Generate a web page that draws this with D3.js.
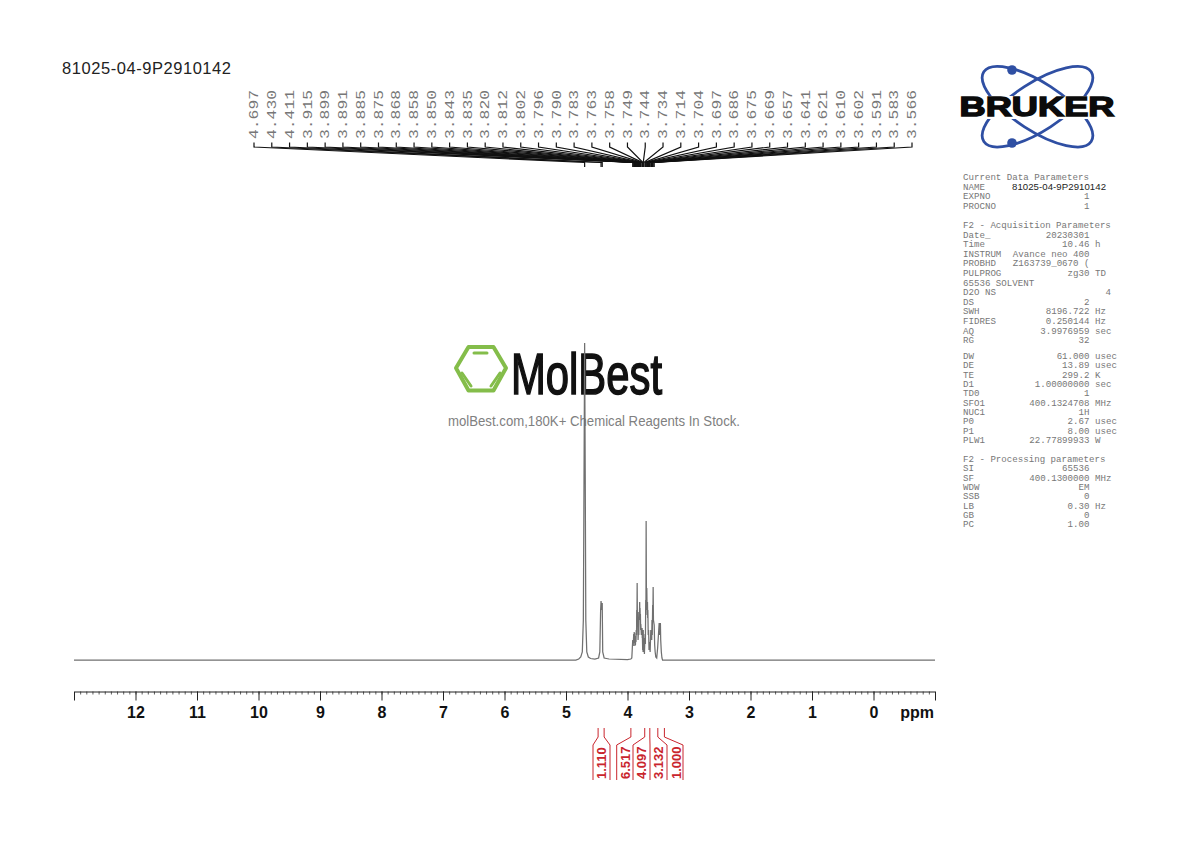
<!DOCTYPE html>
<html><head><meta charset="utf-8">
<script src="https://cdn.jsdelivr.net/npm/d3@7"></script>
<style>html,body{margin:0;background:#fff}svg{display:block}</style>
</head><body><svg id="c" width="1190" height="842"></svg>
<script>
// ---------- data ----------
const title = "81025-04-9P2910142";
const ppmTicks = [12,11,10,9,8,7,6,5,4,3,2,1,0];
const peakPicks = ["4.697","4.430","4.411","3.915","3.899","3.891","3.885","3.875","3.868","3.858","3.850","3.843","3.835","3.820","3.812","3.802","3.796","3.790","3.783","3.763","3.758","3.749","3.744","3.734","3.714","3.704","3.697","3.686","3.675","3.669","3.657","3.641","3.621","3.610","3.602","3.591","3.583","3.566"];
const tracePpm = [13,4.84,4.793,4.76,4.735,4.718,4.707,4.697,4.687,4.678,4.662,4.637,4.6,4.53,4.47,4.45,4.437,4.43,4.42,4.411,4.403,4.38,4.3,4.0,3.945,3.93,3.915,3.907,3.899,3.895,3.891,3.888,3.885,3.880,3.875,3.871,3.868,3.862,3.858,3.853,3.850,3.846,3.843,3.839,3.835,3.828,3.820,3.816,3.812,3.807,3.802,3.799,3.796,3.793,3.790,3.786,3.783,3.775,3.763,3.760,3.758,3.753,3.749,3.747,3.744,3.740,3.734,3.725,3.714,3.709,3.704,3.700,3.697,3.692,3.686,3.680,3.675,3.672,3.669,3.663,3.657,3.650,3.641,3.632,3.621,3.616,3.610,3.606,3.602,3.597,3.591,3.587,3.583,3.578,3.566,3.558,3.55,3.54,3.525,3.51,3.50,3.485,3.478,3.465,3.46,3.45,3.44,3.43,-1];
const traceInt = [0,0,1,3,8,40,180,317,180,40,8,3,1.5,1,2,8,50,59,50,57,8,2,1,0.5,1,2,20,14,26,17,28,18,27,14,24,15,20,18,30,25,50,45,77,42,48,20,32,25,48,40,58,45,52,40,46,30,36,25,32,22,24,10,18,8,30,12,22,6,26,16,60,50,139,55,72,45,58,42,50,25,30,10,18,8,30,22,28,20,40,25,55,45,73,40,35,15,8,3,2,12,22,37,25,37,20,8,2,0,0];
const integralEdges = [4.478,4.38,3.945,3.72,3.637,3.507,3.40];
const integralValues = ["1.110","6.517","4.097","3.132","1.000"];
const paramsTop = [
 ["Current Data Parameters","",""],["NAME","",""],["EXPNO","1",""],["PROCNO","1",""],["","",""],
 ["F2 - Acquisition Parameters","",""],["Date_","20230301",""],["Time","10.46","h"],["INSTRUM","Avance neo 400",""],
 ["PROBHD","Z163739_0670 (",""],["PULPROG","zg30","TD"],["65536 SOLVENT","",""],["D2O NS","","4"],["DS","2",""],
 ["SWH","8196.722","Hz"],["FIDRES","0.250144","Hz"],["AQ","3.9976959","sec"],["RG","32",""]];
const paramsBottom = [
 ["DW","61.000","usec"],["DE","13.89","usec"],["TE","299.2","K"],["D1","1.00000000","sec"],["TD0","1",""],
 ["SFO1","400.1324708","MHz"],["NUC1","1H",""],["P0","2.67","usec"],["P1","8.00","usec"],["PLW1","22.77899933","W"],["","",""],
 ["F2 - Processing parameters","",""],["SI","65536",""],["SF","400.1300000","MHz"],["WDW","EM",""],["SSB","0",""],
 ["LB","0.30","Hz"],["GB","0",""],["PC","1.00",""]];
const watermarkName = "MolBest";
const watermarkLine = "molBest.com,180K+ Chemical Reagents In Stock.";
const logoName = "BRUKER";

// ---------- scales ----------
const svg = d3.select("#c");
const SANS = "'Liberation Sans',Arial,sans-serif", MONO = "'Liberation Mono','Courier New',monospace";
const x = d3.scaleLinear().domain([13,-1]).range([74,935]);
const y = d3.scaleLinear().domain([0,317]).range([660,343]);
const RED = "#c9252d";

svg.append("text").attr("x",62).attr("y",74).attr("font-family",SANS).attr("font-size",16.5)
  .attr("fill","#222").attr("textLength",169).attr("lengthAdjust","spacing").text(title);

// ---------- watermark (under the trace) ----------
const wm = svg.append("g");
const hex = d3.line()([[456,368],[468.5,347],[493.5,347],[506,368],[493.5,390.5],[468.5,390.5]])+"Z";
wm.append("path").attr("d",hex).attr("fill","none").attr("stroke","#84bd4a").attr("stroke-width",4).attr("stroke-linejoin","round");
[[474,353,487,353],[462,373,471,386],[500,373,491,386]].forEach(s=>
  wm.append("line").attr("x1",s[0]).attr("y1",s[1]).attr("x2",s[2]).attr("y2",s[3])
    .attr("stroke","#84bd4a").attr("stroke-width",3).attr("stroke-linecap","round"));
wm.append("text").attr("x",511).attr("y",394).attr("font-family",SANS).attr("font-size",58)
  .attr("fill","#111").attr("stroke","#111").attr("stroke-width",1.6)
  .attr("textLength",151).attr("lengthAdjust","spacingAndGlyphs").text(watermarkName);
wm.append("text").attr("x",448).attr("y",426).attr("font-family",SANS).attr("font-size",14)
  .attr("fill","#808080").attr("textLength",292).attr("lengthAdjust","spacingAndGlyphs").text(watermarkLine);

// ---------- spectrum ----------
const tracePts = tracePpm.map((p,i)=>[p,traceInt[i]]);
svg.append("path").attr("d",d3.line().x(d=>x(d[0])).y(d=>y(d[1]))(tracePts))
  .attr("fill","none").attr("stroke","#707070").attr("stroke-width",1.25);

// ---------- peak picks ----------
const labelX = d3.scalePoint().domain(d3.range(peakPicks.length)).range([254,912]);
const gp = svg.append("g");
gp.selectAll("path").data(peakPicks).join("path")
  .attr("d",(d,i)=>{const px=x(+d),lx=labelX(i);return `M${lx},142.5V147L${px},162.5V167`;})
  .attr("fill","none").attr("stroke","#111").attr("stroke-width",1.2);
gp.selectAll("text").data(peakPicks).join("text")
  .attr("transform",(d,i)=>`translate(${labelX(i)},139) rotate(-90)`)
  .attr("dy","0.35em").attr("font-family",MONO).attr("font-size",12).attr("fill","#777")
  .attr("textLength",49).attr("lengthAdjust","spacingAndGlyphs").text(d=>d);

// ---------- axis ----------
const ax = svg.append("g").attr("transform","translate(0,691.5)");
const minor = d3.range(-10,131).map(d=>d/10);
ax.append("g").call(d3.axisBottom(x).tickValues(minor).tickSize(3).tickSizeOuter(0).tickFormat(""))
  .call(g=>g.select(".domain").remove()).selectAll("line").attr("stroke","#333").attr("stroke-width",0.8);
ax.append("g").call(d3.axisBottom(x).tickValues(ppmTicks).tickSize(9).tickSizeOuter(9).tickPadding(6).tickFormat(d3.format("d")))
  .call(g=>{g.selectAll("text").attr("font-family",SANS).attr("font-weight","bold").attr("font-size",16).attr("fill","#111");
            g.selectAll("path,line").attr("stroke","#222");});
svg.append("text").attr("x",934).attr("y",718).attr("text-anchor","end").attr("font-family",SANS)
  .attr("font-weight","bold").attr("font-size",16).attr("fill","#111").text("ppm");

// ---------- integrals ----------
const colX = d3.scaleOrdinal().domain(d3.range(7)).range([593,610,616.7,633,650,667,683]);
const gi = svg.append("g");
gi.selectAll("path").data(integralEdges).join("path")
  .attr("d",(d,i)=>`M${x(d)},728V737L${colX(i)},745V780`)
  .attr("fill","none").attr("stroke",RED).attr("stroke-width",1);
const labelCx = d3.scaleOrdinal().domain(d3.range(5)).range([601.5,625,641.7,658.5,676]);
gi.selectAll("text").data(integralValues).join("text")
  .attr("transform",(d,i)=>`translate(${labelCx(i)},779) rotate(-90)`).attr("dy","0.36em")
  .attr("font-family",SANS).attr("font-weight","bold").attr("font-size",13).attr("fill",RED).text(d=>d);

// ---------- Bruker logo ----------
const logo = svg.append("g");
[33,-33].forEach(a=>logo.append("ellipse").attr("rx",64).attr("ry",24)
  .attr("transform",`translate(1037.5,106.7) rotate(${a})`)
  .attr("fill","none").attr("stroke","#2f4fa3").attr("stroke-width",2.8));
[70,143].forEach(cy=>logo.append("circle").attr("cx",1012).attr("cy",cy).attr("r",4.8).attr("fill","#2f4fa3"));
logo.append("rect").attr("x",955).attr("y",96).attr("width",164).attr("height",23).attr("fill","#fff");
logo.append("text").attr("x",959.5).attr("y",116).attr("font-family",SANS).attr("font-weight","bold")
  .attr("font-size",27).attr("fill","#0b0b0b").attr("stroke","#0b0b0b").attr("stroke-width",1.4)
  .attr("textLength",155).attr("lengthAdjust","spacingAndGlyphs").text(logoName);

// ---------- parameter block ----------
function block(rows,y0,step){
  const g = svg.append("g").attr("font-family",MONO).attr("font-size",9.13).attr("fill","#777");
  rows.forEach((r,i)=>{
    const yy = y0+i*step+3;
    if(r[0]) g.append("text").attr("x",963).attr("y",yy).text(r[0]);
    if(r[1]) g.append("text").attr("x",1089.5).attr("y",yy).attr("text-anchor","end").text(r[1]);
    if(r[2]) g.append("text").attr("x",r[0]==="D2O NS"?1111:1095).attr("y",yy)
        .attr("text-anchor",r[0]==="D2O NS"?"end":"start").text(r[2]);
  });
}
block(paramsTop,177,9.6);
block(paramsBottom,356,9.35);
svg.append("text").attr("x",1012).attr("y",190).attr("font-family",SANS).attr("font-size",9.6)
  .attr("fill","#222").attr("textLength",94).attr("lengthAdjust","spacing").text(title);
</script></body></html>
